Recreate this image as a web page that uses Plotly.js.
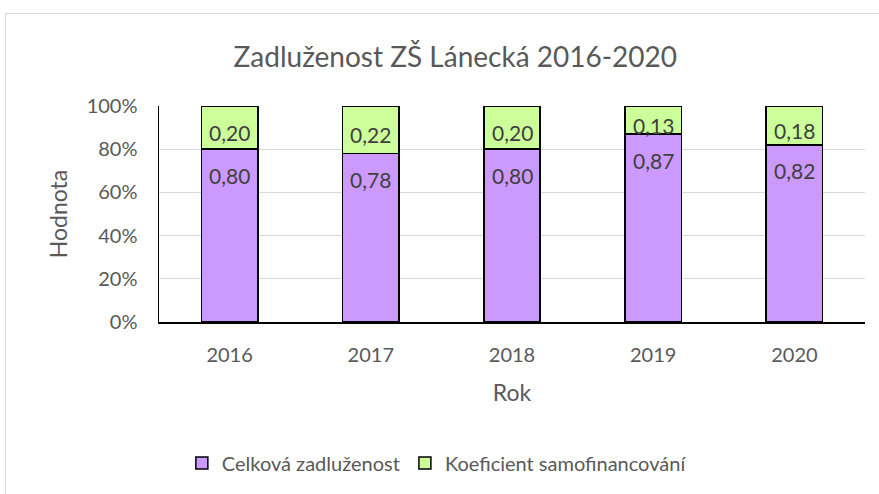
<!DOCTYPE html>
<html><head><meta charset="utf-8">
<script src="https://cdn.plot.ly/plotly-3.0.1.min.js"></script>
<style>
html,body{margin:0;padding:0;background:#fff;}
#frame{position:absolute;left:5px;top:13px;width:900px;height:500px;border:1px solid #d9d9d9;}
#chart{position:absolute;left:0;top:0;width:879px;height:494px;}
</style></head>
<body>
<div id="frame"></div>
<div id="chart"></div>
<script>
const years = ['2016','2017','2018','2019','2020'];
const celkova = [0.80, 0.78, 0.80, 0.87, 0.82];
const koeficient = [0.20, 0.22, 0.20, 0.13, 0.18];
const yTicks = [0, 0.2, 0.4, 0.6, 0.8, 1.0];
const yTickLabels = ['0%','20%','40%','60%','80%','100%'];

const fmt = v => v.toFixed(2).replace('.', ',');
const font = 'Lato, "Open Sans", sans-serif';
const txt = '#595959';

const traces = [
  {type:'bar', name:'Celková zadluženost', x:years, y:celkova,
   marker:{color:'#cc99ff', line:{color:'#000', width:1.5}}, width:0.4, hoverinfo:'none'},
  {type:'bar', name:'Koeficient samofinancování', x:years, y:koeficient,
   marker:{color:'#ccff99', line:{color:'#000', width:1.5}}, width:0.4, hoverinfo:'none'}
];

const annotations = [];
years.forEach((yr, i) => {
  annotations.push({x:i, y:celkova[i], xref:'x', yref:'y', text:fmt(celkova[i]), showarrow:false,
    yanchor:'middle', yshift:-26, font:{family:font, size:21, color:'#404040'}});
  annotations.push({x:i, y:celkova[i] + koeficient[i]/2, xref:'x', yref:'y', text:fmt(koeficient[i]), showarrow:false,
    yanchor:'middle', yshift:-5, font:{family:font, size:21, color:'#404040'}});
});

const layout = {
  width:879, height:494,
  margin:{l:159, r:14, t:106, b:172},
  paper_bgcolor:'rgba(0,0,0,0)', plot_bgcolor:'rgba(0,0,0,0)',
  barmode:'stack',
  title:{text:'Zadluženost ZŠ Lánecká 2016-2020', x:0.518, xanchor:'center', xref:'container', y:0.885, yanchor:'middle', yref:'container',
    font:{family:font, size:28, color:txt}},
  xaxis:{type:'category', range:[-0.5, 4.5], showline:true, linecolor:'#000', linewidth:1.5, ticks:'', showgrid:false,
    ticklabelstandoff:14,
    tickfont:{family:font, size:20, color:txt},
    title:{text:'Rok', font:{family:font, size:23, color:txt}, standoff:20}},
  yaxis:{range:[0,1], tickvals:yTicks, ticktext:yTickLabels, showline:true, linecolor:'#000', linewidth:1.5,
    gridcolor:'#d9d9d9', gridwidth:1, zeroline:false, ticks:'', ticklabelstandoff:16,
    tickfont:{family:font, size:20, color:txt},
    title:{text:'Hodnota', font:{family:font, size:23, color:txt}, standoff:12}},
  legend:{orientation:'h', xref:'container', yref:'container', x:0.497, xanchor:'center', y:0.063, yanchor:'middle',
    font:{family:font, size:20, color:txt}, traceorder:'normal'},
  annotations:annotations,
  showlegend:true
};
Plotly.newPlot('chart', traces, layout, {displayModeBar:false, staticPlot:true});
</script>
</body></html>
